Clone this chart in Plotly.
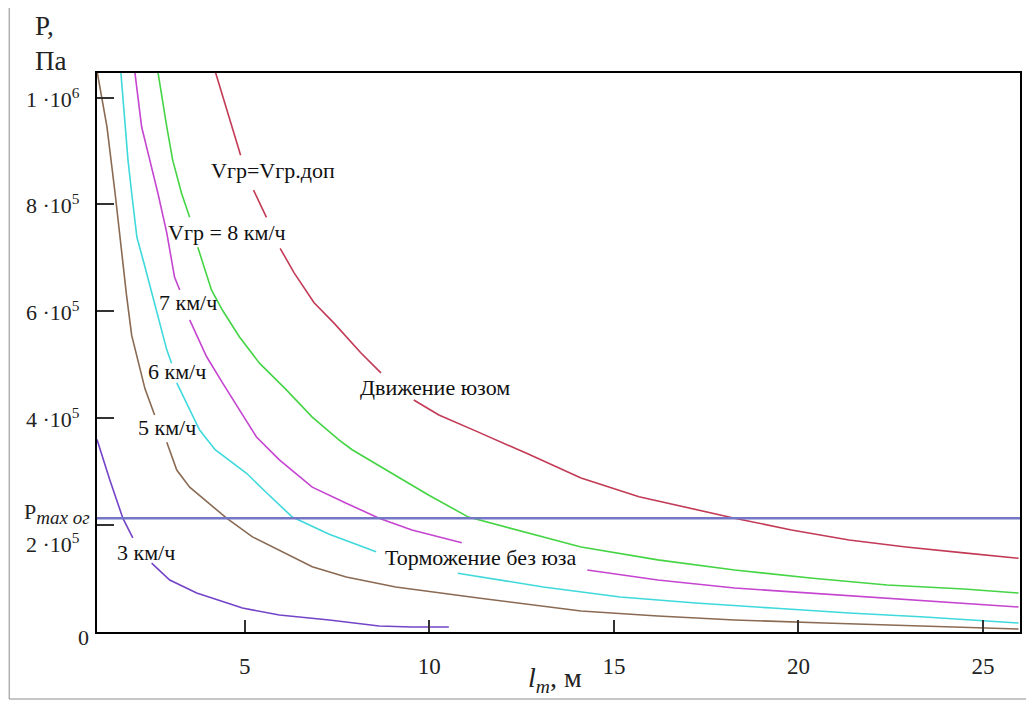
import plotly.graph_objects as go

# ---- data; None marks gaps where labels sit ----
x_red = [4.00, 4.21, 4.89, None, 5.24, 5.59, None, 5.96, 6.34, 6.88, 7.42, 8.15, 8.69, None,
         9.58, 10.26, 11.33, 12.68, 14.11, 15.68, 18.27, 19.81, 21.37, 22.91, 24.48, 25.96]
y_red = [1.095e6, 1.046e6, 8.92e5, None, 8.27e5, 7.76e5, None, 7.18e5, 6.72e5, 6.16e5, 5.78e5, 5.22e5, 4.85e5, None,
         4.34e5, 4.06e5, 3.74e5, 3.33e5, 2.88e5, 2.53e5, 2.13e5, 1.91e5, 1.72e5, 1.59e5, 1.48e5, 1.38e5]

x_green = [2.54, 2.65, 2.89, 3.05, 3.29, 3.51, None, 3.73, 4.10, 4.40, 4.86, 5.40, 6.13, 6.83, 7.56, 7.91,
           9.09, 9.99, 11.06, 13.09, 14.11, 16.19, 18.27, 20.32, 22.40, 24.48, 25.96]
y_green = [1.095e6, 1.046e6, 9.45e5, 8.83e5, 8.21e5, 7.76e5, None, 7.20e5, 6.40e5, 6.02e5, 5.52e5, 5.03e5, 4.53e5, 4.02e5, 3.59e5, 3.41e5,
           2.93e5, 2.56e5, 2.15e5, 1.77e5, 1.59e5, 1.35e5, 1.16e5, 1.01e5, 8.79e4, 8.05e4, 7.30e4]

x_magenta = [1.94, 2.03, 2.21, 2.43, 2.65, 2.89, 3.10, 3.24, None, 3.51, 3.97, 4.40, 4.86, 5.32, 5.94, 6.83,
             7.75, 8.64, 9.53, 10.88, None, 14.28, 16.19, 18.27, 20.32, 22.40, 24.48, 25.96]
y_magenta = [1.095e6, 1.046e6, 9.45e5, 8.83e5, 8.21e5, 7.47e5, 6.64e5, 6.40e5, None, 5.84e5, 5.15e5, 4.66e5, 4.15e5, 3.65e5, 3.22e5, 2.71e5,
             2.41e5, 2.13e5, 1.91e5, 1.67e5, None, 1.16e5, 9.73e4, 8.23e4, 7.30e4, 6.36e4, 5.43e4, 4.68e4]

x_cyan = [1.59, 1.65, 1.76, 1.84, 1.94, 2.08, 2.30, 2.51, 2.70, 2.89, 3.02, None, 3.16, 3.43, 3.78, 4.20,
          5.05, 5.60, 6.29, 7.29, 8.56, None, 10.77, 13.09, 15.17, 17.22, 19.29, 21.37, 23.42, 24.99, 25.96]
y_cyan = [1.095e6, 1.046e6, 9.45e5, 8.83e5, 8.21e5, 7.39e5, 6.83e5, 6.29e5, 5.78e5, 5.28e5, 5.03e5, None, 4.66e5, 4.28e5, 3.78e5, 3.41e5,
          2.97e5, 2.60e5, 2.15e5, 1.83e5, 1.50e5, None, 1.10e5, 8.42e4, 6.55e4, 5.43e4, 4.49e4, 3.55e4, 2.81e4, 2.06e4, 1.68e4]

x_brown = [1.00, 1.27, 1.49, 1.67, 1.80, 1.94, 2.11, 2.30, 2.56, None, 2.89, 3.16, 3.51, 4.13, 4.51,
           5.21, 5.94, 6.83, 7.75, 9.09, 11.33, 14.11, 16.19, 18.27, 20.70, 22.48, 23.83, 25.96]
y_brown = [1.05e6, 9.45e5, 8.21e5, 7.09e5, 6.30e5, 5.55e5, 5.05e5, 4.55e5, 4.06e5, None, 3.55e5, 3.03e5, 2.71e5, 2.34e5, 2.13e5,
           1.78e5, 1.53e5, 1.22e5, 1.03e5, 8.42e4, 6.36e4, 3.93e4, 2.99e4, 2.25e4, 1.68e4, 1.31e4, 9.4e3, 5.6e3]

x_purple = [1.00, 1.35, 1.70, 1.97, None, 2.48, 2.97, 3.70, 4.94, 5.94, 7.29, 8.64, 9.53, 10.53]
y_purple = [3.60e5, 2.84e5, 2.13e5, 1.76e5, None, 1.29e5, 9.73e4, 7.30e4, 4.49e4, 3.18e4, 2.25e4, 1.12e4, 9.4e3, 9.4e3]

p_max = 2.13e5
x_range = [1, 26]
y_range = [0, 1.046e6]

x_ticks = [5, 10, 15, 20, 25]
y_ticks = [0, 2e5, 4e5, 6e5, 8e5, 1e6]
y_tick_text = ["0", "2 ·10<sup>5</sup>", "4 ·10<sup>5</sup>", "6 ·10<sup>5</sup>",
               "8 ·10<sup>5</sup>", "1 ·10<sup>6</sup>"]

curve_labels = [
    ("Vгр=Vгр.доп", 5.78, 8.63e5),
    ("Vгр = 8 км/ч", 4.53, 7.48e5),
    ("7 км/ч", 3.46, 6.16e5),
    ("6 км/ч", 3.16, 4.88e5),
    ("5 км/ч", 2.89, 3.82e5),
    ("3 км/ч", 2.32, 1.48e5),
    ("Движение юзом", 10.15, 4.57e5),
    ("Торможение без юза", 11.39, 1.40e5),
]

FONT = "Liberation Serif, Times New Roman, serif"

fig = go.Figure()

series = [
    (x_brown, y_brown, "#8a6a52"),
    (x_cyan, y_cyan, "#3fd9dc"),
    (x_magenta, y_magenta, "#c544d0"),
    (x_green, y_green, "#44d444"),
    (x_red, y_red, "#c23a55"),
    (x_purple, y_purple, "#7444c8"),
]
for xs, ys, col in series:
    fig.add_trace(go.Scatter(x=xs, y=ys, mode="lines", line=dict(color=col, width=1.6),
                             connectgaps=False, hoverinfo="skip", showlegend=False))

fig.add_trace(go.Scatter(x=x_range, y=[p_max, p_max], mode="lines",
                         line=dict(color="#7476c6", width=2.5), hoverinfo="skip", showlegend=False))

annotations = []
for txt, ax, ay in curve_labels:
    annotations.append(dict(x=ax, y=ay, xref="x", yref="y", text=txt, showarrow=False,
                            font=dict(family=FONT, size=22, color="#111111")))

plot_w = 1022 - 97
plot_h = 632 - 73
for v, t in zip(y_ticks, y_tick_text):
    shift = 0
    xr = (82 - 97) / plot_w
    if v == 2e5:
        shift = -18
    if v == 0:
        shift = -5
        xr = (91 - 97) / plot_w
    annotations.append(dict(x=xr, y=v, xref="paper", yref="y", text=t, showarrow=False,
                            xanchor="right", yanchor="middle", yshift=shift,
                            font=dict(family=FONT, size=22, color="#222222")))

annotations.append(dict(x=(92 - 97) / plot_w, y=p_max, xref="paper", yref="y",
                        text="P<sub><span style='font-size:19px'><i>max ог</i></span></sub>",
                        showarrow=False, xanchor="right",
                        yanchor="middle", yshift=5, font=dict(family=FONT, size=22, color="#222222")))

annotations.append(dict(x=(33 - 97) / plot_w, y=(632 - 43) / plot_h, xref="paper", yref="paper",
                        text="P,<br>Па", showarrow=False, xanchor="left", yanchor="middle", align="left",
                        font=dict(family=FONT, size=27, color="#222222")))

annotations.append(dict(x=(556 - 97) / plot_w, y=(632 - 680) / plot_h, xref="paper", yref="paper",
                        text="<i>l</i><sub><i>m</i></sub>, м", showarrow=False, xanchor="center",
                        yanchor="middle", font=dict(family=FONT, size=28, color="#222222")))

# the page body has an 8px margin, so the figure is 8px smaller and margins shifted
fig.update_layout(
    width=1026, height=696,
    margin=dict(l=89, r=12, t=65, b=72),
    paper_bgcolor="white", plot_bgcolor="white",
    annotations=annotations,
    shapes=[dict(type="rect", xref="paper", yref="paper",
                 x0=(9 - 97) / plot_w, x1=(1030 - 97) / plot_w,
                 y0=(632 - 699) / plot_h, y1=(632 - 6) / plot_h,
                 line=dict(color="#8c8c8c", width=1), fillcolor="rgba(0,0,0,0)", layer="below")],
)
fig.update_xaxes(range=x_range, tickvals=x_ticks, ticks="inside", ticklen=12, tickwidth=1.5, tickcolor="#333333",
                 showline=True, linecolor="black", linewidth=2, mirror=True, showgrid=False, zeroline=False,
                 tickfont=dict(family=FONT, size=23, color="#222222"), ticklabelstandoff=12)
fig.update_yaxes(range=y_range, tickvals=y_ticks[1:], ticks="inside", ticklen=17, tickwidth=1.5, tickcolor="#333333",
                 showline=True, linecolor="black", linewidth=2, mirror=True, showgrid=False, zeroline=False,
                 showticklabels=False)

fig.write_html("out.html")
